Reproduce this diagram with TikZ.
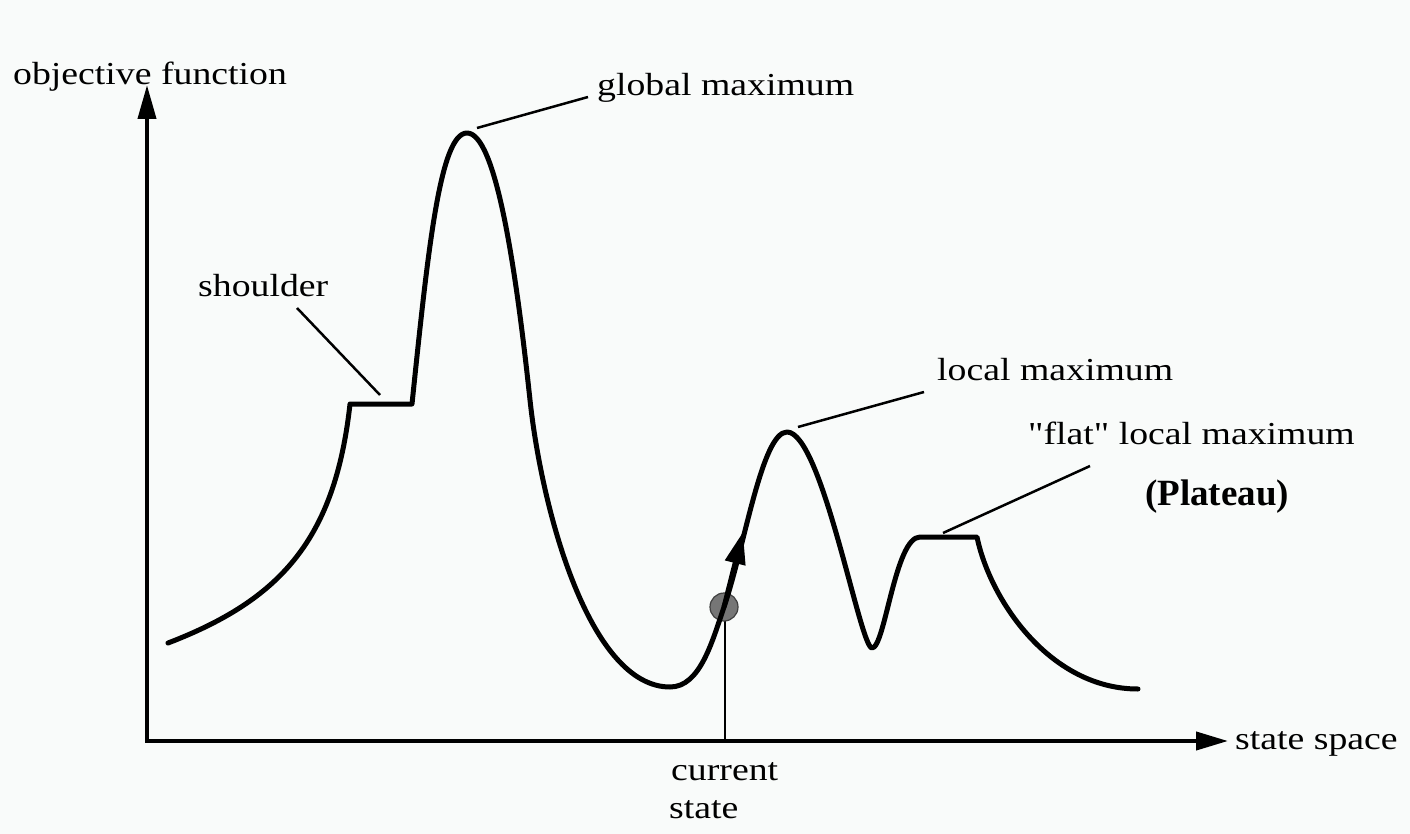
\documentclass[tikz,border=0pt]{standalone}
\usepackage{fontspec}
\setmainfont{Liberation Serif}
\newfontfamily\widefont[FakeStretch=1.18]{Liberation Serif}
\usetikzlibrary{arrows.meta}
\definecolor{bg}{RGB}{249,251,250}
\definecolor{dotgray}{RGB}{118,118,118}
\begin{document}
\begin{tikzpicture}[x=1pt,y=-1pt,
  lbl/.style={font=\widefont\fontsize{32}{38}\selectfont, inner sep=0pt, anchor=base west},
  boldlbl/.style={font=\bfseries\fontsize{37}{44}\selectfont, inner sep=0pt, anchor=base west},
  curve/.style={line width=5pt, line join=round, line cap=round},
  leader/.style={line width=2.5pt},
  axis/.style={line width=4pt},
]
\fill[bg] (0,0) rectangle (1410,834);
\useasboundingbox (0,0) rectangle (1410,834);

% axes
\coordinate (O) at (147,741);
\coordinate (ytip) at (147,85);
\coordinate (xtip) at (1228,741);
\draw[axis, {Triangle[length=34pt,width=18pt]}-{Triangle[length=32pt,width=18pt]}] (ytip) -- (O) -- (xtip);

% labels
\node[lbl] (objf) at (13,85) {objective function};
\node[lbl] (glob) at (597,96) {global maximum};
\node[lbl] (shld) at (198,296) {shoulder};
\node[lbl] (locm) at (937,380) {local maximum};
\node[lbl] (flat) at (1028,444) {"flat" local maximum};
\node[boldlbl] (plat) at (1145,505) {(Plateau)};
\node[lbl] (cur1) at (671,780) {current};
\node[lbl] (cur2) at (669,818) {state};
\node[lbl] (ssp) at (1235,749) {state space};

% current state marker
\coordinate (csfoot) at (725,741);
\draw[line width=2pt] (csfoot) -- (725,607);
\node[circle, draw=black!75, fill=dotgray, minimum size=28pt, inner sep=0pt, line width=1.2pt] (cs) at (724,607) {};

% landscape curve
\draw[curve] (168,643) .. controls (280,600) and (335,540) .. (350,404)
  -- (412,404)
  .. controls (428,250) and (440,133) .. (467,133)
  .. controls (495,133) and (515,260) .. (530,400)
  .. controls (542,512) and (590,687) .. (670,687)
  .. controls (700,687) and (712,642) .. (724,607)
  .. controls (745,545) and (762,432) .. (787,432)
  .. controls (822,432) and (860,648) .. (872,648)
  .. controls (885,648) and (895,537) .. (920,537)
  -- (977,537)
  .. controls (990,600) and (1050,689) .. (1138,689);

% arrow on the curve
\coordinate (arrtip) at (743,532);
\draw[line width=5pt, -{Triangle[length=32pt,width=20pt]}] (cs.center) -- (arrtip);

% leaders
\coordinate (gmpt) at (477,128);
\coordinate (gmend) at (588,97);
\draw[leader] (gmpt) -- (gmend);
\coordinate (shpt) at (380,395);
\coordinate (shend) at (297,308);
\draw[leader] (shpt) -- (shend);
\coordinate (lmpt) at (798,427);
\coordinate (lmend) at (924,392);
\draw[leader] (lmpt) -- (lmend);
\coordinate (flpt) at (943,533);
\coordinate (flend) at (1090,466);
\draw[leader] (flpt) -- (flend);
\end{tikzpicture}
\end{document}
